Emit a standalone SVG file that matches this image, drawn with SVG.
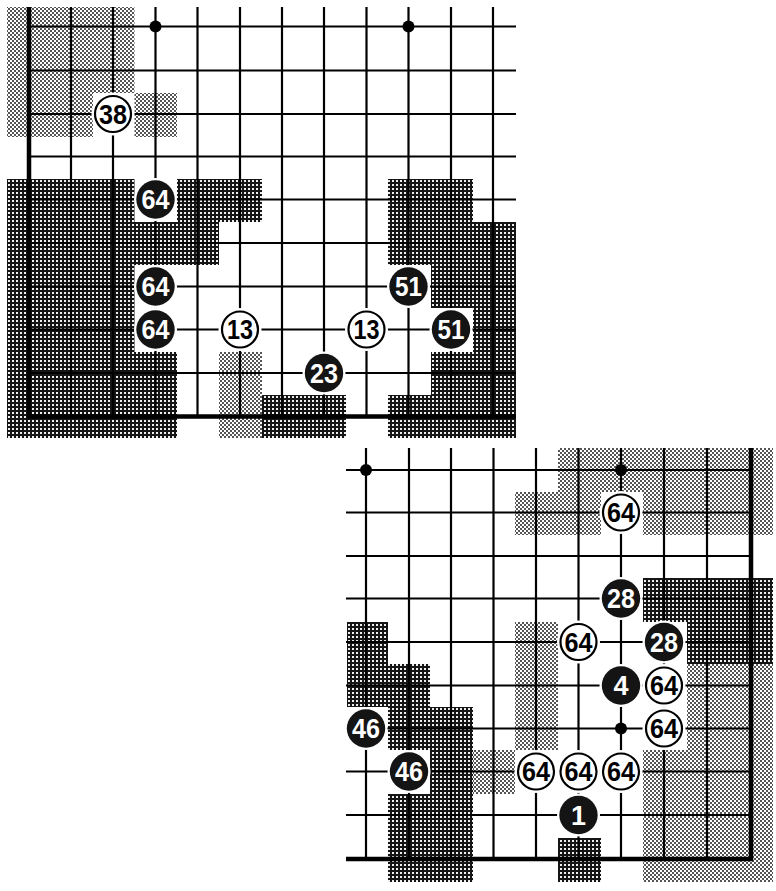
<svg xmlns="http://www.w3.org/2000/svg" width="776" height="891" viewBox="0 0 776 891">
<defs>
<pattern id="lt" width="4" height="4" patternUnits="userSpaceOnUse"><rect width="4" height="4" fill="#fff"/><rect width="2" height="2" fill="#555"/><rect x="2" y="2" width="2" height="2" fill="#555"/></pattern>
<pattern id="dk" width="4" height="4" patternUnits="userSpaceOnUse"><rect width="4" height="4" fill="#151515"/><rect width="2" height="2" fill="#eee"/></pattern>
</defs>
<style>
.l{fill:url(#lt)}
.d{fill:url(#dk)}
.g{stroke:#000;stroke-width:2.2;fill:none}
.e{stroke:#000;stroke-width:4.5;fill:none}
.h{fill:#fff}
.b{fill:#141414}
.w{fill:#fff;stroke:#000;stroke-width:2.2}
.s{fill:#000}
.bt{fill:#fff;font-family:"Liberation Sans",Arial,sans-serif;font-weight:bold;font-size:27px;text-anchor:middle}
.wt{fill:#000;font-family:"Liberation Sans",Arial,sans-serif;font-weight:bold;font-size:27px;text-anchor:middle}
</style>
<rect width="776" height="891" fill="#fff"/>

<g id="shading-top">
<path class="l" d="M7 7H134.5V93H93V137H7Z"/>
<rect class="l" x="134.5" y="93" width="42.5" height="44"/>
<rect class="l" x="219" y="352" width="43" height="86"/>
<path class="d" d="M7 179H134.5V222H177V179H262V222H219V265H134.5V352H177V438H7Z"/>
<rect class="d" x="262" y="395" width="84" height="43"/>
<path class="d" d="M388 179H473V222H516V438H388V395H431V352H473V308H431V265H388Z"/>
</g>

<g id="shading-bottom">
<rect class="l" x="558" y="448" width="215" height="44"/>
<rect class="l" x="515" y="492" width="86" height="43"/>
<rect class="l" x="643" y="492" width="130" height="43"/>
<rect class="l" x="515" y="622" width="43" height="128"/>
<rect class="l" x="473" y="750" width="42" height="44"/>
<path class="l" d="M687 664H773V882H643V750H687Z"/>
<path class="d" d="M347 622H388V664H430V707H473V882H388V794H430V750H388V707H347Z"/>
<rect class="d" x="558" y="838" width="43" height="44"/>
<path class="d" d="M643 578H773V664H687V622H643Z"/>
</g>

<g id="grid-top">
<path class="g" d="M29 26.5H516M29 70.5H516M29 114H516M29 156.5H516M29 199.5H516M29 243H516M29 286.5H516M29 329.5H516M29 373H516"/>
<path class="g" d="M71 7V416.5M113 7V416.5M155.5 7V416.5M197.5 7V416.5M240 7V416.5M282 7V416.5M324 7V416.5M366.5 7V416.5M408.5 7V416.5M451 7V416.5M493 7V416.5"/>
<path class="e" d="M29 7V418.7M27 416.5H516"/>
<circle class="s" cx="155.5" cy="26.5" r="6"/>
<circle class="s" cx="408.5" cy="26.5" r="6"/>
</g>

<g id="grid-bottom">
<path class="g" d="M346 470H751M346 512.5H751M346 556H751M346 598.5H751M346 642H751M346 685.5H751M346 728.5H751M346 771.5H751M346 815H751"/>
<path class="g" d="M366 448V859M409 448V859M451 448V859M493.5 448V859M536 448V859M578.5 448V859M621 448V859M664 448V859M707 448V859"/>
<path class="e" d="M751 448V861.2M346 859H753"/>
<circle class="s" cx="366" cy="470" r="6"/>
<circle class="s" cx="621" cy="470" r="6"/>
<circle class="s" cx="621" cy="728.5" r="6"/>
</g>

<g id="stone-t38"><circle class="h" cx="113" cy="114" r="21.5"/><circle class="w" cx="113" cy="114" r="18"/><text class="wt" x="113" y="123.5" textLength="28" lengthAdjust="spacingAndGlyphs">38</text></g>
<g id="stone-t64a"><circle class="h" cx="155.5" cy="199.5" r="21.5"/><circle class="b" cx="155.5" cy="199.5" r="19.2"/><text class="bt" x="155.5" y="209" textLength="28" lengthAdjust="spacingAndGlyphs">64</text></g>
<g id="stone-t64b"><circle class="h" cx="155.5" cy="286.5" r="21.5"/><circle class="b" cx="155.5" cy="286.5" r="19.2"/><text class="bt" x="155.5" y="296" textLength="28" lengthAdjust="spacingAndGlyphs">64</text></g>
<g id="stone-t64c"><circle class="h" cx="155.5" cy="329.5" r="21.5"/><circle class="b" cx="155.5" cy="329.5" r="19.2"/><text class="bt" x="155.5" y="339" textLength="28" lengthAdjust="spacingAndGlyphs">64</text></g>
<g id="stone-t13a"><circle class="h" cx="240" cy="329.5" r="21.5"/><circle class="w" cx="240" cy="329.5" r="18"/><text class="wt" x="240" y="339" textLength="26" lengthAdjust="spacingAndGlyphs">13</text></g>
<g id="stone-t13b"><circle class="h" cx="366.5" cy="329.5" r="21.5"/><circle class="w" cx="366.5" cy="329.5" r="18"/><text class="wt" x="366.5" y="339" textLength="26" lengthAdjust="spacingAndGlyphs">13</text></g>
<g id="stone-t23"><circle class="h" cx="324" cy="373" r="21.5"/><circle class="b" cx="324" cy="373" r="19.2"/><text class="bt" x="324" y="382.5" textLength="28" lengthAdjust="spacingAndGlyphs">23</text></g>
<g id="stone-t51a"><circle class="h" cx="408.5" cy="286.5" r="21.5"/><circle class="b" cx="408.5" cy="286.5" r="19.2"/><text class="bt" x="408.5" y="296" textLength="27" lengthAdjust="spacingAndGlyphs">51</text></g>
<g id="stone-t51b"><circle class="h" cx="451" cy="329.5" r="21.5"/><circle class="b" cx="451" cy="329.5" r="19.2"/><text class="bt" x="451" y="339" textLength="27" lengthAdjust="spacingAndGlyphs">51</text></g>

<g id="stone-b64a"><circle class="h" cx="621" cy="512.5" r="21.5"/><circle class="w" cx="621" cy="512.5" r="18"/><text class="wt" x="621" y="522" textLength="28" lengthAdjust="spacingAndGlyphs">64</text></g>
<g id="stone-b28a"><circle class="h" cx="621" cy="598.5" r="21.5"/><circle class="b" cx="621" cy="598.5" r="19.2"/><text class="bt" x="621" y="608" textLength="28" lengthAdjust="spacingAndGlyphs">28</text></g>
<g id="stone-b28b"><circle class="h" cx="664" cy="642" r="21.5"/><circle class="b" cx="664" cy="642" r="19.2"/><text class="bt" x="664" y="651.5" textLength="28" lengthAdjust="spacingAndGlyphs">28</text></g>
<g id="stone-b64b"><circle class="h" cx="578.5" cy="642" r="21.5"/><circle class="w" cx="578.5" cy="642" r="18"/><text class="wt" x="578.5" y="651.5" textLength="28" lengthAdjust="spacingAndGlyphs">64</text></g>
<g id="stone-b4"><circle class="h" cx="621" cy="685.5" r="21.5"/><circle class="b" cx="621" cy="685.5" r="19.2"/><text class="bt" x="621" y="695">4</text></g>
<g id="stone-b64c"><circle class="h" cx="664" cy="685.5" r="21.5"/><circle class="w" cx="664" cy="685.5" r="18"/><text class="wt" x="664" y="695" textLength="28" lengthAdjust="spacingAndGlyphs">64</text></g>
<g id="stone-b64d"><circle class="h" cx="664" cy="728.5" r="21.5"/><circle class="w" cx="664" cy="728.5" r="18"/><text class="wt" x="664" y="738" textLength="28" lengthAdjust="spacingAndGlyphs">64</text></g>
<g id="stone-b46a"><circle class="h" cx="366" cy="728.5" r="21.5"/><circle class="b" cx="366" cy="728.5" r="19.2"/><text class="bt" x="366" y="738" textLength="28" lengthAdjust="spacingAndGlyphs">46</text></g>
<g id="stone-b46b"><circle class="h" cx="409" cy="771.5" r="21.5"/><circle class="b" cx="409" cy="771.5" r="19.2"/><text class="bt" x="409" y="781" textLength="28" lengthAdjust="spacingAndGlyphs">46</text></g>
<g id="stone-b64e"><circle class="h" cx="536" cy="771.5" r="21.5"/><circle class="w" cx="536" cy="771.5" r="18"/><text class="wt" x="536" y="781" textLength="28" lengthAdjust="spacingAndGlyphs">64</text></g>
<g id="stone-b64f"><circle class="h" cx="578.5" cy="771.5" r="21.5"/><circle class="w" cx="578.5" cy="771.5" r="18"/><text class="wt" x="578.5" y="781" textLength="28" lengthAdjust="spacingAndGlyphs">64</text></g>
<g id="stone-b64g"><circle class="h" cx="621" cy="771.5" r="21.5"/><circle class="w" cx="621" cy="771.5" r="18"/><text class="wt" x="621" y="781" textLength="28" lengthAdjust="spacingAndGlyphs">64</text></g>
<g id="stone-b1"><circle class="h" cx="578.5" cy="815" r="21.5"/><circle class="b" cx="578.5" cy="815" r="19.2"/><text class="bt" x="578.5" y="824.5">1</text></g>
</svg>
